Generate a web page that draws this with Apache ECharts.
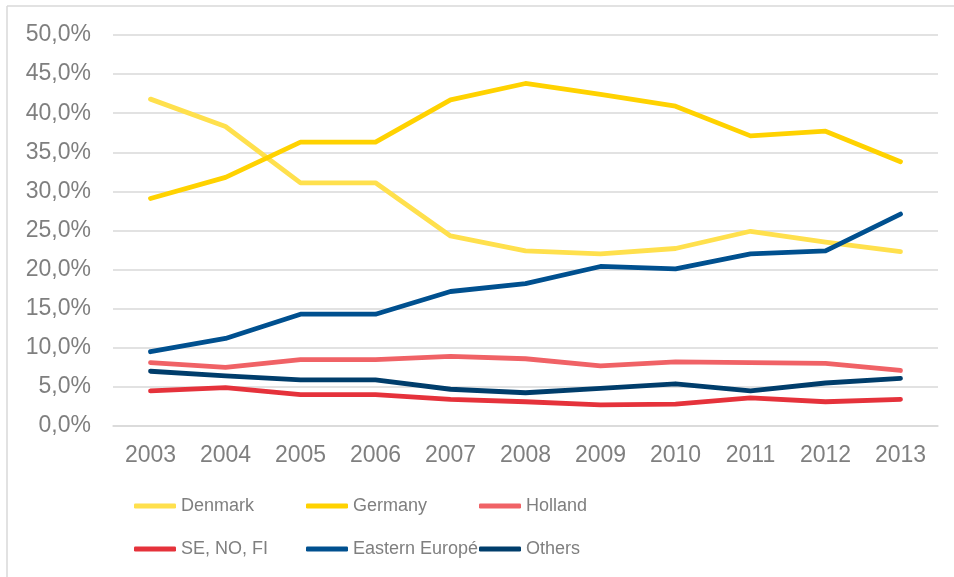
<!DOCTYPE html>
<html>
<head>
<meta charset="utf-8">
<script src="https://cdn.jsdelivr.net/npm/echarts@6/dist/echarts.min.js"></script>
<style>
html,body{margin:0;padding:0;background:#fff;}
#chart{width:954px;height:577px;}
</style>
</head>
<body>
<div id="chart"></div>
<script>
const years = ['2003','2004','2005','2006','2007','2008','2009','2010','2011','2012','2013'];
const denmark = [41.8, 38.3, 31.1, 31.1, 24.3, 22.4, 22.0, 22.7, 24.9, 23.5, 22.3];
const germany = [29.1, 31.8, 36.3, 36.3, 41.7, 43.8, 42.4, 40.9, 37.1, 37.7, 33.8];
const holland = [8.1, 7.5, 8.5, 8.5, 8.9, 8.6, 7.7, 8.2, 8.1, 8.0, 7.1];
const seNoFi = [4.5, 4.9, 4.0, 4.0, 3.4, 3.1, 2.7, 2.8, 3.6, 3.1, 3.4];
const easternEurope = [9.5, 11.2, 14.3, 14.3, 17.2, 18.2, 20.4, 20.1, 22.0, 22.4, 27.1];
const others = [7.0, 6.4, 5.9, 5.9, 4.7, 4.25, 4.8, 5.4, 4.5, 5.5, 6.1];
const seriesNames = ['Denmark','Germany','Holland','SE, NO, FI','Eastern Europé','Others'];

const seriesData = [denmark, germany, holland, seNoFi, easternEurope, others];
const colors = ['#FFE04D','#FFD200','#F06266','#E5323B','#00508F','#003D6B'];
const legendPos = [
  {left:134, top:495},{left:306, top:495},{left:479, top:495},
  {left:134, top:538},{left:306, top:538},{left:479, top:538}
];
const font = "'Liberation Sans', Arial, sans-serif";
const gray = '#7F7F7F';

const chart = echarts.init(document.getElementById('chart'), null, {renderer:'canvas'});
chart.setOption({
  animation:false,
  backgroundColor:'#ffffff',
  color: colors,
  graphic:[
    {type:'line', shape:{x1:7,y1:6,x2:7,y2:600}, style:{stroke:'#D9D9D9', lineWidth:1.5}},
    {type:'line', shape:{x1:7,y1:6,x2:1000,y2:6}, style:{stroke:'#D9D9D9', lineWidth:1.5}}
  ],
  legend: seriesNames.map((n,i)=>({
    data:[n], left:legendPos[i].left, top:legendPos[i].top, padding:0,
    icon:'roundRect', itemWidth:42, itemHeight:5,
    textStyle:{color:gray, fontSize:18, fontFamily:font, lineHeight:22}
  })),
  grid:{left:113, right:16, top:35, bottom:151, containLabel:false},
  xAxis:{
    type:'category', data:years, boundaryGap:true,
    axisLine:{show:true, lineStyle:{color:'#D9D9D9', width:1.5}},
    axisTick:{show:false},
    axisLabel:{color:gray, fontSize:23, fontFamily:font, margin:18}
  },
  yAxis:{
    type:'value', min:0, max:50, interval:5,
    axisLine:{show:false}, axisTick:{show:false},
    splitLine:{lineStyle:{color:'#D9D9D9', width:1.5}},
    axisLabel:{color:gray, fontSize:23, fontFamily:font, margin:22,
      formatter:v=>v.toFixed(1).replace('.',',')+'%'}
  },
  series: seriesNames.map((n,i)=>({
    name:n, type:'line', data:seriesData[i], showSymbol:false, symbol:'none',
    lineStyle:{width:4.8, color:colors[i], cap:'round', join:'round'},
    itemStyle:{color:colors[i]}
  }))
});
</script>
</body>
</html>
